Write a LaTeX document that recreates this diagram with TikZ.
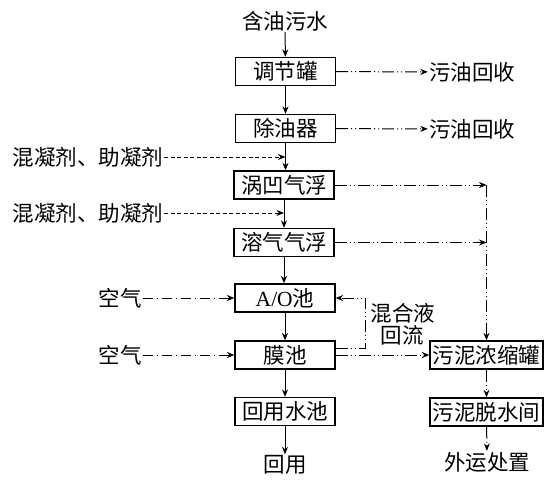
\documentclass[tikz,border=0pt]{standalone}
\usepackage{fontspec}
\setmainfont{Liberation Serif}
\newfontfamily\cjk{Noto Sans CJK SC}
\usetikzlibrary{arrows.meta,calc}
\begin{document}
\begin{tikzpicture}[x=1pt,y=-1pt,
  font=\cjk\fontsize{21.5}{25}\selectfont,
  box/.style={draw,line width=1.3pt,minimum width=100pt,minimum height=28pt,inner sep=1pt},
  sbox/.style={box,minimum width=113pt},
  txt/.style={inner sep=1pt},
  arr/.style={line width=1pt,-{Stealth[length=7.5pt,width=6pt]}},
  ddot/.style={dash pattern=on 12pt off 3pt on 1pt off 3pt on 1pt off 3pt},
  dnode/.style={dash pattern=on 10pt off 4pt on 1pt off 4pt},
  dsh/.style={dash pattern=on 4pt off 2.5pt}]
\useasboundingbox (0,0) rectangle (559,482);
\node[txt] (src) at (285,21) {含油污水};
\node[box] (b1) at (285.5,71.5) {调节罐};
\node[box] (b2) at (285.5,128.5) {除油器};
\node[box] (b3) at (284,185) {涡凹气浮};
\node[box] (b4) at (284,242.5) {溶气气浮};
\node[box] (b5) at (285,298) {{\fontspec{Liberation Serif}A/O}池};
\node[box] (b6) at (285,355) {膜池};
\node[box] (b7) at (285,411.5) {回用水池};
\node[txt] (o1) at (285,465) {回用};
\node[txt] (r1) at (472,72) {污油回收};
\node[txt] (r2) at (472,129) {污油回收};
\node[txt] (l1) at (88,157) {混凝剂、助凝剂};
\node[txt] (l2) at (88,213) {混凝剂、助凝剂};
\node[txt] (a1) at (120,298) {空气};
\node[txt] (a2) at (120,355) {空气};
\node[sbox] (s1) at (486.5,355) {污泥浓缩罐};
\node[sbox] (s2) at (486.5,412) {污泥脱水间};
\node[txt] (o2) at (487,462) {外运处置};
\node[txt] (m1) at (403,313) {混合液};
\node[txt] (m2) at (402,335) {回流};
% main flow
\draw[arr] (src) -- (b1);
\draw[arr] (b1) -- (b2);
\draw[arr] (b2.south) -- (b2.south |- b3.north);
\draw[arr] (b3.south) -- (b3.south |- b4.north);
\draw[arr] (b4.south) -- (b4.south |- b5.north);
\draw[arr] (b5) -- (b6);
\draw[arr] (b6) -- (b7);
\draw[arr] (b7) -- (o1);
% oil recovery
\draw[arr,ddot] (b1) -- (r1);
\draw[arr,ddot] (b2) -- (r2);
% chemicals
\coordinate (c1) at (b2.south |- l1.east);
\coordinate (c2) at (b3.south |- l2.east);
\draw[arr,dsh] (l1) -- (c1);
\draw[arr,dsh] (l2) -- (c2);
% air
\draw[arr,dnode] (a1) -- (b5);
\draw[arr,dnode] (a2) -- (b6);
% sludge
\coordinate (j1) at (s1.north |- b3.east);
\coordinate (j2) at (s1.north |- b4.east);
\draw[arr,ddot] (b3.east) -- (j1);
\draw[arr,ddot] (b4.east) -- (j2);
\draw[arr,ddot] (j1) -- (s1.north);
\draw[arr,ddot] (s1) -- (s2);
\draw[arr,ddot] (s2) -- (o2);
% recycle
\coordinate (rc0) at ($(b6.east)+(0,-7)$);
\coordinate (rc1) at ($(rc0)+(30,0)$);
\coordinate (rc2) at (rc1 |- b5.east);
\draw[arr,ddot] (rc0) -- (rc1) -- (rc2) -- (b5.east);
\draw[arr,ddot] (b6.east) -- (s1.west);
\end{tikzpicture}
\end{document}
